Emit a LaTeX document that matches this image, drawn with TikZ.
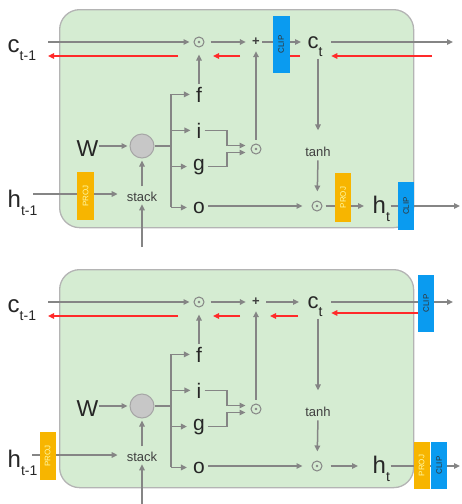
\documentclass[tikz,border=0pt]{standalone}
\usepackage{fontspec}
\setmainfont{Liberation Sans}
\usetikzlibrary{arrows.meta,calc}
\definecolor{cellg}{HTML}{D5ECD2}
\definecolor{cellb}{HTML}{B4B4B4}
\definecolor{lineg}{HTML}{858585}
\definecolor{redl}{HTML}{FF2A2A}
\definecolor{projo}{HTML}{F7B500}
\definecolor{clipb}{HTML}{0A9BF0}
\tikzset{
  cell/.style={draw=cellb, fill=cellg, line width=1.3pt, rounded corners=20pt},
  ln/.style={draw=lineg, line width=1.5pt},
  arr/.style={ln, -{Triangle[length=6pt,width=5.5pt]}},
  rarr/.style={draw=redl, line width=1.3pt, -{Triangle[length=6pt,width=5.5pt]}},
  rln/.style={draw=redl, line width=1.3pt},
  gate/.style={font=\fontsize{21}{21}\selectfont, text=black!85, inner sep=1pt, anchor=base},
  biglbl/.style={inner sep=0.5pt, anchor=base west, text=black!85},
  smalltxt/.style={font=\fontsize{13}{13}\selectfont, text=black!75, inner sep=1pt, anchor=base},
  odotn/.style={circle, draw=lineg, line width=1pt, minimum size=10pt, inner sep=0pt,
    path picture={\fill[lineg] (path picture bounding box.center) circle (1.3pt);}},
  plusn/.style={minimum size=8pt, inner sep=0pt, font=\bfseries\fontsize{13}{13}\selectfont, text=black!75},
  multn/.style={circle, draw=black!35, fill=black!22, line width=1pt, minimum size=24pt, inner sep=0pt},
  projbox/.style={fill=projo, rotate=90, inner sep=0pt, text=yellow!35,
    font=\fontsize{8}{8}\selectfont},
  clipbox/.style={fill=clipb, rotate=90, inner sep=0pt, text=black!80,
    font=\fontsize{8}{8}\selectfont},
}
\newcommand\clbl[2]{\fontsize{#1}{#1}\selectfont c\raisebox{-8pt}{\fontsize{14}{14}\selectfont #2}}
\newcommand\hlbl[2]{\fontsize{#1}{#1}\selectfont h\raisebox{-8pt}{\fontsize{14}{14}\selectfont #2}}
% common LSTM cell body, #1 = name prefix
\newcommand\lstmcore[1]{%
  \node[cell, minimum width=354pt, minimum height=218pt, anchor=north west] (#1cell) at (59,9) {};
  % cell state row
  \node[biglbl] (#1cprev) at (7,52) {\clbl{24}{t-1}};
  \coordinate (#1cin) at (48,42);
  \node[odotn] (#1od1) at (199,42) {};
  \node[plusn] (#1plus) at (256,42) {+};
  \node[biglbl] (#1ct) at (307,48) {\clbl{22}{t}};
  \draw[arr, shorten >=4pt] (#1cin) -- (#1od1);
  \draw[arr, shorten <=6pt, shorten >=6pt] (#1od1) -- (#1plus);
  \coordinate (#1rA) at (178,56);
  \coordinate (#1rB) at (48,56);
  \draw[rarr] (#1rA) -- (#1rB);
  \coordinate (#1rC) at (240,56);
  \coordinate (#1rD) at (213,56);
  \draw[rarr] (#1rC) -- (#1rD);
  % gates
  \node[gate] (#1f) at (199,102) {f};
  \node[gate] (#1i) at (199,138) {i};
  \node[gate] (#1g) at (199,170) {g};
  \node[gate] (#1o) at (199,213) {o};
  \node[multn] (#1M) at (142,146) {};
  \node[biglbl, font=\fontsize{23}{23}\selectfont] (#1W) at (76,156) {W};
  \node[smalltxt] (#1stack) at (142,201) {stack};
  \coordinate (#1br) at (171,146);
  \draw[arr, shorten >=2pt] (#1W.east |- #1M) -- (#1M);
  \draw[ln] (#1M) -- (#1br);
  \draw[ln] (#1br |- #1f) -- (#1br |- #1o);
  \draw[arr, shorten >=5pt] (#1br |- #1f) -- (#1f);
  \draw[arr, shorten >=5pt] (#1br |- #1i) -- (#1i);
  \draw[arr, shorten >=5pt] (#1br |- #1g) -- (#1g);
  \draw[arr, shorten >=5pt] (#1br |- #1o) -- (#1o);
  \draw[arr, shorten <=2pt, shorten >=7pt] (#1f) -- (#1od1);
  \draw[arr, shorten <=4pt, shorten >=2pt] (#1stack) -- (#1M);
  \coordinate (#1sbot) at (142,247);
  \draw[arr, shorten >=2pt] (#1sbot) -- (#1stack);
  \node[biglbl] (#1hprev) at (7,207) {\hlbl{24}{t-1}};
  % i * g
  \node[odotn] (#1od2) at (256,149) {};
  \coordinate (#1jn) at (227,149);
  \draw[arr, shorten <=2pt, shorten >=5pt] (#1i.east) -| ([yshift=3.5pt]#1jn) -- ([yshift=3.5pt]#1od2.west);
  \draw[arr, shorten <=2pt, shorten >=5pt] (#1g.east) -| ([yshift=-3.5pt]#1jn) -- ([yshift=-3.5pt]#1od2.west);
  \draw[arr, shorten <=4pt, shorten >=5pt] (#1od2) -- (#1plus);
  % output path
  \node[smalltxt] (#1tanh) at (318,156) {tanh};
  \node[odotn] (#1od3) at (317,206) {};
  \draw[arr, shorten <=2pt, shorten >=15pt] (#1tanh |- #1ct.south) -- (#1tanh.north);
  \draw[arr, shorten <=3pt, shorten >=9pt] (#1tanh.south) -- (#1od3);
  \draw[arr, shorten <=2pt, shorten >=9pt] (#1o.east |- #1od3) -- (#1od3);
  \node[biglbl] (#1ht) at (372,213) {\hlbl{24}{t}};
}
\begin{document}
\begin{tikzpicture}[x=1pt, y=-1pt]
\useasboundingbox (0,0) rectangle (462,504);
%================ TOP PANEL =================
\lstmcore{T}
\draw[arr, shorten <=2pt, shorten >=6pt] (Tplus) -- (Tct.west |- Tplus);
\coordinate (TrE) at (300,56);
\coordinate (TrF) at (276,56);
\draw[rln] (TrE) -- (TrF);
\node[clipbox, minimum width=57pt, minimum height=17pt] (Tclip1) at (281,44.5) {CLIP};
\coordinate (Tcout) at (453,42);
\draw[arr, shorten <=8pt] (Tct.east |- Tplus) -- (Tcout);
\coordinate (Trin) at (432,56);
\draw[rarr, shorten >=8pt] (Trin) -- (Tct.east |- Trin);
\coordinate (Thin) at (33,194);
\draw[arr, shorten >=8pt] (Thin) -- (Tstack.west |- Thin);
\node[projbox, minimum width=48pt, minimum height=17pt] (Tproj1) at (85.5,196) {PROJ};
\draw[arr, shorten <=3pt, shorten >=8pt] (Tod3) -- (Tht.west |- Tod3);
\node[projbox, minimum width=49pt, minimum height=16pt] (Tproj2) at (343,197.5) {PROJ};
\coordinate (Thout) at (460,206);
\draw[arr] (Tht.east |- Tod3) -- (Thout);
\node[clipbox, minimum width=48pt, minimum height=16pt] (Tclip2) at (406,206) {CLIP};
%================ BOTTOM PANEL =================
\begin{scope}[shift={(0,260)}]
\lstmcore{B}
\draw[arr, shorten <=6pt, shorten >=8pt] (Bplus) -- (Bct.west |- Bplus);
\coordinate (BrE) at (298,56);
\coordinate (BrF) at (270,56);
\draw[rarr] (BrE) -- (BrF);
\coordinate (Bcout) at (453,42);
\draw[arr, shorten <=8pt] (Bct.east |- Bplus) -- (Bcout);
\node[clipbox, minimum width=57pt, minimum height=16pt] (Bclip1) at (426,43.5) {CLIP};
\draw[rarr, shorten >=8pt] (Bclip1.north |- 0,53) -- (Bct.east |- 0,53);
\coordinate (Bhin) at (32,195);
\draw[arr, shorten >=8pt] (Bhin) -- (Bstack.west |- Bhin);
\node[projbox, minimum width=48pt, minimum height=16pt] (Bproj1) at (47.5,196) {PROJ};
\draw[arr, shorten <=8pt, shorten >=14pt] (Bod3) -- (Bht.west |- Bod3);
\coordinate (Bhout) at (460,206);
\draw[arr] (Bht.east |- Bod3) -- (Bhout);
\node[projbox, minimum width=47pt, minimum height=16pt] (Bproj2) at (421.5,205.5) {PROJ};
\node[clipbox, minimum width=47pt, minimum height=16pt] (Bclip2) at (439,205.5) {CLIP};
\end{scope}
\end{tikzpicture}
\end{document}
